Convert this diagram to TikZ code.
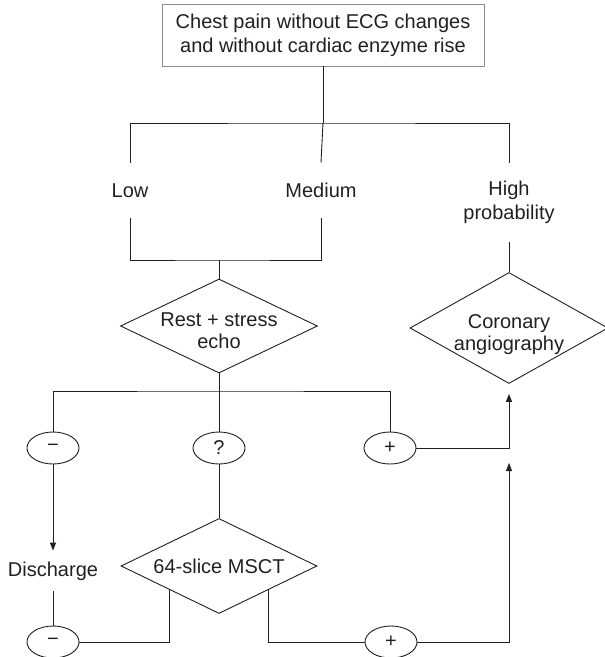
\documentclass[tikz,border=0pt]{standalone}
\usepackage{fontspec}
\setmainfont{Liberation Sans}
\usetikzlibrary{shapes.geometric,arrows.meta}
\definecolor{ink}{HTML}{231F20}
\definecolor{frame}{HTML}{8C8C8C}
% two-line text inside a decision diamond, kept out of the shape size
\newcommand{\intext}[1]{\raisebox{-12pt}[0pt][0pt]{\renewcommand{\arraystretch}{0.92}\begin{tabular}{@{}c@{}}#1\end{tabular}}}

\begin{document}
\begin{tikzpicture}[x=1pt,y=-1pt,color=ink,line width=0.9pt,
  font=\fontsize{20}{24}\selectfont,
  topbox/.style={draw=frame, line width=0.8pt, align=center, inner sep=0pt,
    minimum width=322pt, minimum height=62pt},
  lbl/.style={inner sep=0pt, align=center, minimum height=55pt},
  decision/.style={diamond, draw, inner sep=0pt, aspect=2},
  sign/.style={ellipse, draw, inner sep=0pt, minimum width=52pt, minimum height=32pt},
  flow/.style={-{Triangle[length=8pt,width=6pt]}}]
\useasboundingbox (0,0) rectangle (605,657);

% top: risk groups
\node[topbox] (chest) at (323,35) {Chest pain without ECG changes\\and without cardiac enzyme rise};
\coordinate (split) at (323,123);
\node[lbl] (low) at (130,190.5) {Low};
\node[lbl] (medium) at (321,190.5) {Medium};
\node[lbl, minimum height=79pt] (high) at (509,202.5) {High\\probability};
\draw[](chest.south) -- (split);
\draw[](low.north) |- (split) -| (high.north);
\draw[](split) -- (medium.north);

% low / medium go to echo, high to angiography
\coordinate (join) at (219,260);
\node[decision, minimum width=197pt, minimum height=94pt] (rest) at (219,326) {\intext{Rest + stress\\echo}};
\node[decision, minimum width=198pt, minimum height=111pt] (coro) at (509,328) {\intext{Coronary\\angiography}};
\draw[](low.south) |- (join) -| (medium.south);
\draw[](join) -- (rest.north);
\draw[](high.south) -- (coro.north);

% echo result
\coordinate (fork) at (219,391);
\node[sign] (neg) at (53,448) {−};
\node[sign] (unk) at (219,448) {?};
\node[sign] (pos) at (390,448) {+};
\draw[](rest.south) -- (unk.north);
\draw[](neg.north) |- (fork) -| (pos.north);
\draw[flow](pos.east) -| ([yshift=-10pt]coro.south);

% negative: discharge
\node[lbl, minimum height=40pt] (discharge) at (53,571) {Discharge};
\node[sign] (neg2) at (53,642) {−};
\draw[flow](neg.south) -- (discharge.north);
\draw[](discharge.south) -- (neg2.north);

% doubtful: MSCT
\node[decision, minimum width=196pt, minimum height=95pt] (msct) at (219,566) {64-slice MSCT};
\node[sign] (pos2) at (391,642) {+};
\coordinate (rise) at (509,463);
\draw[](unk.south) -- (msct.north);
\draw[](neg2.east) -| (msct.south west);
\draw[](msct.south east) |- (pos2.west);
\draw[flow](pos2.east) -| (rise);

\end{tikzpicture}
\end{document}
